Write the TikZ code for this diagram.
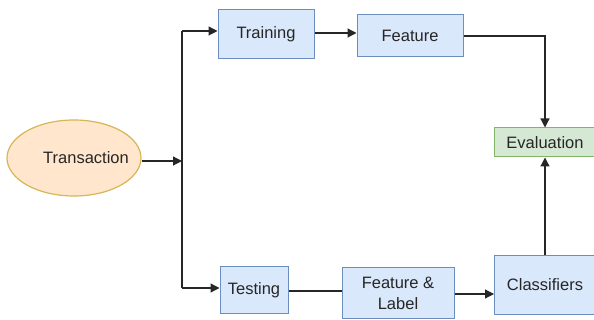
\documentclass[tikz,border=0pt]{standalone}
\usepackage{fontspec}
\setmainfont{Liberation Sans}
\usetikzlibrary{arrows.meta,shapes.geometric}
\definecolor{bfill}{HTML}{DAE8FC}
\definecolor{bdraw}{HTML}{6C8EBF}
\definecolor{gfill}{HTML}{D5E8D4}
\definecolor{gdraw}{HTML}{82B366}
\definecolor{ofill}{HTML}{FFE6CC}
\definecolor{odraw}{HTML}{D6B656}
\begin{document}
\begin{tikzpicture}[x=1pt,y=-1pt,
  txt/.style={font=\fontsize{16.5}{20}\selectfont,text=black!85},
  bluebox/.style={txt,draw=bdraw,fill=bfill,line width=1pt,inner sep=0pt,align=center},
  greenbox/.style={txt,draw=gdraw,fill=gfill,line width=1pt,inner sep=0pt,align=center},
  conn/.style={draw=black!85,line width=1.2pt},
  arr/.style={conn,-{Triangle[length=9pt,width=9pt]}}]
\useasboundingbox (0,0) rectangle (594,320);
\node[draw=odraw,fill=ofill,line width=1.2pt,ellipse,minimum width=134pt,minimum height=76pt,inner sep=0pt] (trans) at (74,158) {};
\node[txt] (transl) at (86,158) {Transaction};
\node[bluebox,minimum width=96pt,minimum height=49pt] (train) at (266,34.5) {Training};
\node[bluebox,minimum width=106pt,minimum height=42pt] (feat) at (410,36) {Feature};
\node[greenbox,minimum width=101pt,minimum height=29pt] (eval) at (545,142.5) {Evaluation};
\node[bluebox,minimum width=68pt,minimum height=46pt] (test) at (254,290) {Testing};
\node[bluebox,minimum width=112pt,minimum height=50pt] (fl) at (398,293) {Feature \&\\[1pt]Label};
\node[bluebox,minimum width=101pt,minimum height=58pt] (cls) at (545,285) {Classifiers};
\coordinate (jn) at (182,161);
\coordinate (jt) at (182,31);
\coordinate (jb) at (182,288);
\draw[arr] (trans.east |- jn) -- (jn);
\draw[conn] (jt) -- (jb);
\draw[arr] (jt) -- (train.west |- jt);
\draw[arr] (jb) -- (test.west |- jb);
\draw[arr] (train.east |- 0,33) -- (feat.west |- 0,33);
\draw[arr] (feat.east) -- (eval.north |- feat.east) -- (eval.north);
\draw[conn] (test.east |- 0,291) -- (fl.west |- 0,291);
\draw[arr] (fl.east |- 0,294) -- (cls.west |- 0,294);
\draw[arr] (cls.north) -- (eval.south);
\end{tikzpicture}
\end{document}
